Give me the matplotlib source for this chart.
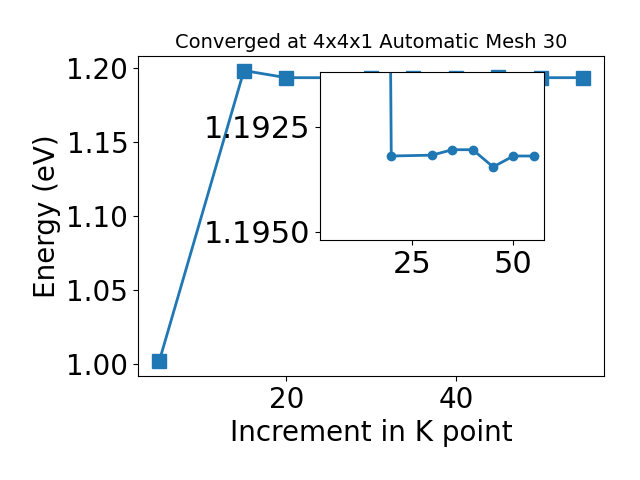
import matplotlib
matplotlib.use("Agg")
import matplotlib.pyplot as plt

k_points = [5, 15, 20, 30, 35, 40, 45, 50, 55]
energy = [1.002, 1.198, 1.19320, 1.19318, 1.19305, 1.19305, 1.19346, 1.19320, 1.19320]

inset_k = [5, 20, 30, 35, 40, 45, 50, 55]
inset_energy = [1.002, 1.19320, 1.19318, 1.19305, 1.19305, 1.19346, 1.19320, 1.19320]

fig = plt.figure(figsize=(6.4, 4.8), dpi=100)
ax = fig.add_axes([0.2156, 0.2167, 0.7284, 0.6666])
ax.plot(k_points, energy, 's-', color='#1f77b4', markersize=10, linewidth=2)
ax.set_title("Converged at 4x4x1 Automatic Mesh 30", fontsize=14)
ax.set_xlabel("Increment in K point", fontsize=20)
ax.set_ylabel("Energy (eV)", fontsize=20)
ax.tick_params(labelsize=20)
ax.set_yticks([1.00, 1.05, 1.10, 1.15, 1.20])
ax.set_yticklabels(["1.00", "1.05", "1.10", "1.15", "1.20"])
ax.set_xticks([20, 40])

ins = fig.add_axes([0.5, 0.5, 0.35, 0.35])
ins.plot(inset_k, inset_energy, 'o-', color='#1f77b4', markersize=6, linewidth=2)
ins.set_ylim(1.1952, 1.1912)
ins.set_xlim(2.5, 57.5)
ins.set_yticks([1.1925, 1.1950])
ins.set_yticklabels(["1.1925", "1.1950"])
ins.set_xticks([25, 50])
ins.tick_params(labelsize=22)

fig.savefig("out.png", dpi=100)
